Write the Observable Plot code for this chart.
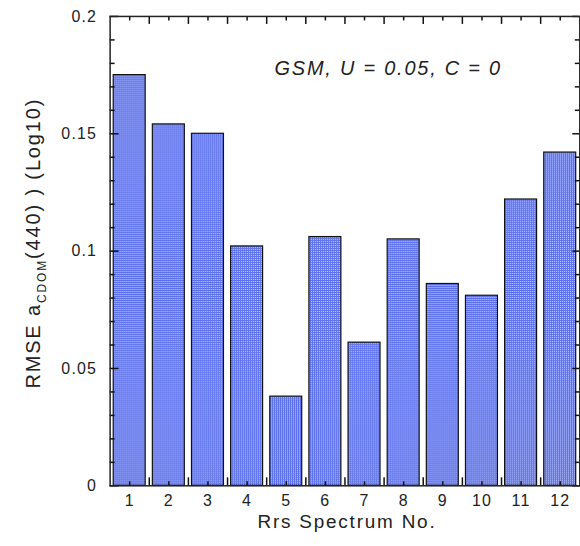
<!DOCTYPE html>
<html><head><meta charset="utf-8">
<script src="https://cdn.jsdelivr.net/npm/d3@7"></script>
<script src="https://cdn.jsdelivr.net/npm/@observablehq/plot@0.6"></script>
<style>
html,body{margin:0;padding:0;background:#fff;overflow:hidden;}
</style></head><body><div id="chart"></div>
<script>
// ---- data ----
const spectra = [1, 2, 3, 4, 5, 6, 7, 8, 9, 10, 11, 12];
const rmse = [0.175, 0.154, 0.150, 0.102, 0.038, 0.106, 0.061, 0.105, 0.086, 0.081, 0.122, 0.142];
const yMajorTicks = [0, 0.05, 0.1, 0.15, 0.2];
const yMinorTicks = [0.01, 0.02, 0.03, 0.04, 0.06, 0.07, 0.08, 0.09, 0.11, 0.12, 0.13, 0.14, 0.16, 0.17, 0.18, 0.19];
const xBoundaries = [1.5, 2.5, 3.5, 4.5, 5.5, 6.5, 7.5, 8.5, 9.5, 10.5, 11.5];
const annotation = "GSM, U = 0.05, C = 0";
const xLabel = "Rrs Spectrum No.";
const yLabelMain = "RMSE a";
const yLabelSub = "CDOM";
const yLabelRest = "(440) ) (Log10)";

const data = spectra.map((n, i) => ({n, v: rmse[i]}));

const W = 582, H = 546, ML = 110, MR = 0.7, MT = 16, MB = 59;
const FW = W - ML - MR, FH = H - MT - MB;
const xDomain = [0.5, 12.5], yDomain = [0, 0.2];
// convert a tick length in pixels to a span in scale units
const xPx = (xDomain[1] - xDomain[0]) / FW;
const yPx = (yDomain[1] - yDomain[0]) / FH;
const tickStyle = {stroke: "#111", strokeWidth: 1.5};
const yTicks = (values, side, len) => Plot.ruleY(values, {y: d => d,
  x1: side === "left" ? xDomain[0] : xDomain[1],
  x2: side === "left" ? xDomain[0] + len * xPx : xDomain[1] - len * xPx, ...tickStyle});
const xTicks = (values, side, len) => Plot.ruleX(values, {x: d => d,
  y1: side === "bottom" ? yDomain[0] : yDomain[1],
  y2: side === "bottom" ? yDomain[0] + len * yPx : yDomain[1] - len * yPx, ...tickStyle});

const svg = Plot.plot({
  width: W,
  height: H,
  marginLeft: ML,
  marginRight: MR,
  marginTop: MT,
  marginBottom: MB,
  style: {fontFamily: "'Liberation Sans', Arial, sans-serif", fontSize: "16px", color: "#222", background: "#fff", overflow: "visible"},
  x: {type: "linear", domain: xDomain},
  y: {domain: yDomain},
  marks: [
    Plot.rectY(data, {x1: d => d.n - 0.5, x2: d => d.n + 0.5, y: "v", insetLeft: 3.6, insetRight: 3.6,
      fill: "url(#bar-hatch)", stroke: "#111", strokeWidth: 1.2}),
    Plot.axisY({ticks: yMajorTicks, tickSize: 0, tickPadding: 13, fontSize: 16, tickFormat: d => String(d), label: null}),
    Plot.axisX({ticks: spectra, tickSize: 0, tickPadding: 9, fontSize: 16, tickFormat: d => String(d), label: null}),
    yTicks(yMajorTicks, "left", 9),
    yTicks(yMinorTicks, "left", 5),
    yTicks(yMajorTicks, "right", 7),
    yTicks(yMinorTicks, "right", 4.5),
    xTicks(spectra, "bottom", 4),
    xTicks(xBoundaries, "bottom", 8),
    xTicks(spectra, "top", 4.5),
    xTicks(xBoundaries, "top", 8),
    Plot.frame({stroke: "#222", strokeWidth: 1.5}),
    Plot.text([annotation], {frameAnchor: "top-left", dx: 165, dy: 45, textAnchor: "start", fontSize: 20, fontStyle: "italic", fill: "#222"}),
    Plot.text([xLabel], {frameAnchor: "bottom", dx: 2, dy: 42, fontSize: 19, fill: "#222"})
  ]
});

const s = d3.select(svg);
const defs = s.insert("defs", ":first-child");
const pat = defs.append("pattern").attr("id", "bar-hatch").attr("patternUnits", "userSpaceOnUse")
  .attr("width", 2).attr("height", 2);
pat.append("rect").attr("width", 2).attr("height", 2).attr("fill", "#5c70ec");
pat.append("rect").attr("width", 1).attr("height", 1).attr("fill", "#c8d0fc");

// letter spacing to mimic the wide original typeface
s.selectAll('g[aria-label="y-axis tick label"], g[aria-label="x-axis tick label"]').style("letter-spacing", "1.2px");
s.selectAll('g[aria-label="text"]').style("letter-spacing", "1.8px");

// y axis label with subscript
const yl = s.append("text")
  .attr("transform", "translate(40,244) rotate(-90)")
  .attr("text-anchor", "middle")
  .attr("fill", "#222")
  .style("font-size", "20px")
  .style("letter-spacing", "1.9px");
yl.append("tspan").text(yLabelMain);
yl.append("tspan").attr("dy", 6).style("font-size", "12px").text(yLabelSub);
yl.append("tspan").attr("dy", -6).text(yLabelRest);

document.getElementById("chart").appendChild(svg);
</script></body></html>
